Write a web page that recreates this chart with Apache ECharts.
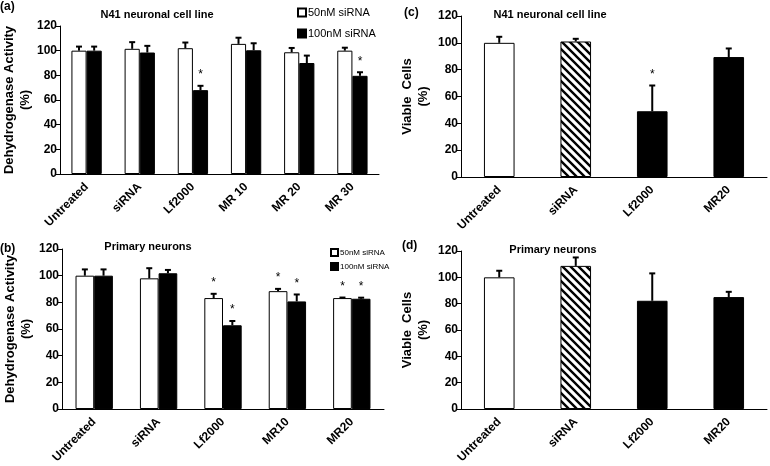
<!DOCTYPE html>
<html><head><meta charset="utf-8">
<script src="https://cdn.jsdelivr.net/npm/echarts/dist/echarts.min.js"></script>
<style>html,body{margin:0;padding:0;background:#fff}#c{width:770px;height:466px}</style>
</head><body><div id="c"></div>
<script>
// ---- data ----
const catsA = ['Untreated', 'siRNA', 'Lf2000', 'MR 10', 'MR 20', 'MR 30'];
const a50 = [100, 101.5, 102, 105.5, 98.7, 100];
const a50Err = [3.3, 5.4, 4.6, 5, 3.5, 2.4];
const a50Sig = [0, 0, 0, 0, 0, 0];
const a100 = [100, 98.5, 68, 100.3, 90, 79.6];
const a100Err = [3.3, 5.4, 3.5, 5.7, 6, 2.9];
const a100Sig = [0, 0, 1, 0, 0, 1];

const catsB = ['Untreated', 'siRNA', 'Lf2000', 'MR10', 'MR20'];
const b50 = [100, 98, 83.2, 88.4, 83.2];
const b50Err = [4.7, 7.6, 3.2, 1.7, 0.4];
const b50Sig = [0, 0, 1, 1, 1];
const b100 = [100, 101.8, 62.8, 80.7, 82.7];
const b100Err = [4.7, 2.5, 3.2, 5.2, 0.8];
const b100Sig = [0, 0, 1, 1, 1];

const catsC = ['Untreated', 'siRNA', 'Lf2000', 'MR20'];
const cVal = [100, 101, 49, 89.4];
const cErr = [4.5, 2, 19.2, 6.4];
const cSig = [0, 0, 1, 0];

const catsD = ['Untreated', 'siRNA', 'Lf2000', 'MR20'];
const dVal = [100, 108.7, 82.2, 85];
const dErr = [5, 6.4, 20.8, 4];
const dSig = [0, 0, 0, 0];

const seriesNames = ['50nM siRNA', '100nM siRNA'];
const yMin = 0, yMax = 120, yStep = 20;

// ---- styling ----
const FONT = 'Arial, "Liberation Sans", sans-serif';
const fillKinds = ['white', 'hatch', 'black', 'black'];

function hatchCanvas() {
  const c = document.createElement('canvas');
  c.width = 8; c.height = 8;
  const g = c.getContext('2d');
  g.fillStyle = '#fff'; g.fillRect(0, 0, 8, 8);
  g.strokeStyle = '#000'; g.lineWidth = 2.4;
  g.beginPath();
  g.moveTo(-2, -2); g.lineTo(10, 10);
  g.moveTo(-2, 6); g.lineTo(2, 10);
  g.moveTo(6, -2); g.lineTo(10, 2);
  g.stroke();
  return c;
}
const hatchPattern = { image: hatchCanvas(), repeat: 'repeat' };

function fillOf(kind) {
  if (kind === 'white') return '#ffffff';
  if (kind === 'hatch') return hatchPattern;
  return '#000000';
}

const grids = [
  { left: 60, top: 26, width: 319, height: 148 },
  { left: 62, top: 249, width: 322, height: 161 },
  { left: 461, top: 16, width: 306, height: 161 },
  { left: 461, top: 251, width: 306, height: 161 }
];
const gaps = [0.43, 0.42, 0.6, 0.6];

function xAx(i, cats) {
  return {
    gridIndex: i, type: 'category', data: cats,
    axisLine: { lineStyle: { color: '#000', width: 1 } },
    axisTick: { show: false },
    axisLabel: { rotate: 45, interval: 0, color: '#000', fontWeight: 'bold', fontSize: 12, fontFamily: FONT, margin: 11 },
    splitLine: { show: false }
  };
}
function yAx(i, name, gap) {
  return {
    gridIndex: i, type: 'value', min: yMin, max: yMax, interval: yStep,
    name: name, nameLocation: 'middle', nameRotate: 90, nameGap: gap,
    nameTextStyle: { color: '#000', fontWeight: 'bold', fontSize: 13, fontFamily: FONT, lineHeight: 16 },
    axisLine: { show: true, lineStyle: { color: '#000', width: 1 } },
    axisTick: { show: true, length: 4, lineStyle: { color: '#000' } },
    axisLabel: { color: '#000', fontWeight: 'bold', fontSize: 12, fontFamily: FONT, margin: 3 },
    splitLine: { show: false }
  };
}

function errRender(nSeries, idx, gapFrac) {
  return function (params, api) {
    const x = api.value(0), v = api.value(1), e = api.value(2), s = api.value(3);
    const p0 = api.coord([x, v]);
    const p1 = api.coord([x, v + e]);
    const band = api.size([1, 0])[0];
    const bw = band * (1 - gapFrac) / nSeries;
    const cx = p0[0] + (idx - (nSeries - 1) / 2) * bw;
    const children = [];
    if (e > 0) {
      children.push({ type: 'line', shape: { x1: cx, y1: p0[1], x2: cx, y2: p1[1] }, style: { stroke: '#000', lineWidth: 2 } });
      children.push({ type: 'line', shape: { x1: cx - 3, y1: p1[1], x2: cx + 3, y2: p1[1] }, style: { stroke: '#000', lineWidth: 2 } });
    }
    if (s) {
      children.push({ type: 'text', style: { text: '*', x: cx, y: p1[1] - 5, align: 'center', verticalAlign: 'bottom', font: '12px ' + FONT, fill: '#000' } });
    }
    return { type: 'group', children: children };
  };
}

function errData(vals, errs, sig) {
  return vals.map((v, i) => [i, v, errs[i], sig[i]]);
}

const series = [];
[[a50, a50Err, a50Sig, a100, a100Err, a100Sig, 0], [b50, b50Err, b50Sig, b100, b100Err, b100Sig, 1]].forEach(p => {
  const gi = p[6];
  series.push({
    type: 'bar', name: seriesNames[0], xAxisIndex: gi, yAxisIndex: gi, data: p[0],
    barGap: '0%', barCategoryGap: (gaps[gi] * 100) + '%',
    itemStyle: { color: '#fff', borderColor: '#000', borderWidth: 1 }, z: 2
  });
  series.push({
    type: 'bar', name: seriesNames[1], xAxisIndex: gi, yAxisIndex: gi, data: p[3],
    barGap: '0%', barCategoryGap: (gaps[gi] * 100) + '%',
    itemStyle: { color: '#000', borderColor: '#000', borderWidth: 1 }, z: 2
  });
  series.push({
    type: 'custom', xAxisIndex: gi, yAxisIndex: gi, renderItem: errRender(2, 0, gaps[gi]),
    data: errData(p[0], p[1], p[2]), encode: { x: 0, y: 1 }, z: 3, silent: true
  });
  series.push({
    type: 'custom', xAxisIndex: gi, yAxisIndex: gi, renderItem: errRender(2, 1, gaps[gi]),
    data: errData(p[3], p[4], p[5]), encode: { x: 0, y: 1 }, z: 3, silent: true
  });
});
[[cVal, cErr, cSig, 2], [dVal, dErr, dSig, 3]].forEach(p => {
  const gi = p[3];
  series.push({
    type: 'bar', xAxisIndex: gi, yAxisIndex: gi,
    barCategoryGap: (gaps[gi] * 100) + '%',
    data: p[0].map((v, i) => ({ value: v, itemStyle: { color: fillOf(fillKinds[i]), borderColor: '#000', borderWidth: 1 } })),
    z: 2
  });
  series.push({
    type: 'custom', xAxisIndex: gi, yAxisIndex: gi, renderItem: errRender(1, 0, gaps[gi]),
    data: errData(p[0], p[1], p[2]), encode: { x: 0, y: 1 }, z: 3, silent: true
  });
});

function txt(x, y, text, size, weight, align) {
  return { type: 'text', x: x, y: y, style: { text: text, font: (weight || 'bold') + ' ' + size + 'px ' + FONT, fill: '#000', align: align || 'center', verticalAlign: 'middle' } };
}

const option = {
  animation: false,
  backgroundColor: '#fff',
  grid: grids,
  xAxis: [xAx(0, catsA), xAx(1, catsB), xAx(2, catsC), xAx(3, catsD)],
  yAxis: [
    yAx(0, 'Dehydrogenase Activity\n(%)', 21),
    yAx(1, 'Dehydrogenase Activity\n(%)', 28),
    yAx(2, 'Viable  Cells\n(%)', 30),
    yAx(3, 'Viable  Cells\n(%)', 30)
  ],
  legend: [
    { data: seriesNames, orient: 'vertical', left: 292, top: 2, itemWidth: 8, itemHeight: 8, itemGap: 10, icon: 'rect',
      textStyle: { fontSize: 11, color: '#000', fontFamily: FONT, padding: [0, 0, 0, -3] }, selectedMode: false },
    { data: seriesNames, orient: 'vertical', left: 325, top: 243, itemWidth: 7, itemHeight: 7, itemGap: 5, icon: 'rect',
      textStyle: { fontSize: 8, color: '#000', fontFamily: FONT, padding: [0, 0, 0, -3] }, selectedMode: false }
  ],
  graphic: [
    txt(157, 15, 'N41 neuronal cell line', 11),
    txt(148, 247, 'Primary neurons', 11),
    txt(550, 15, 'N41 neuronal cell line', 11),
    txt(553, 250, 'Primary neurons', 11),
    txt(0, 7, '(a)', 12, 'bold', 'left'),
    txt(0, 249, '(b)', 12, 'bold', 'left'),
    txt(404, 13, '(c)', 12, 'bold', 'left'),
    txt(402, 246, '(d)', 12, 'bold', 'left')
  ],
  series: series
};

const chart = echarts.init(document.getElementById('c'), null, { renderer: 'canvas' });
chart.setOption(option);
</script>
</body></html>
